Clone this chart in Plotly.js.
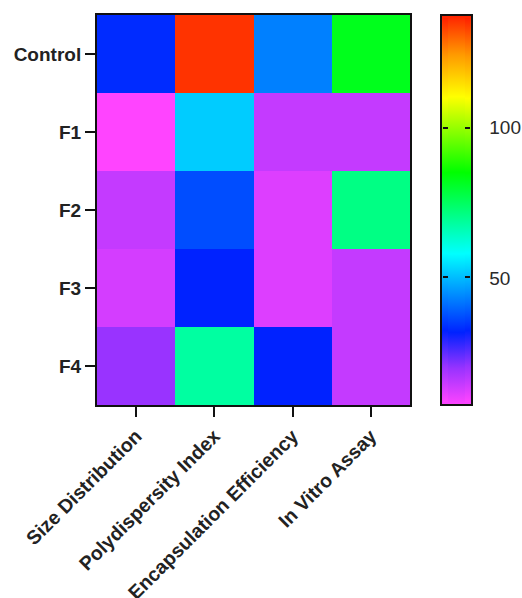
<!DOCTYPE html>
<html>
<head>
<meta charset="utf-8">
<script src="https://cdn.plot.ly/plotly-3.0.1.min.js"></script>
<style>html,body{margin:0;padding:0;background:#fff;}#chart{width:522px;height:598px;}</style>
</head>
<body>
<div id="chart"></div>
<script>
// Data
var columns = ["Size Distribution", "Polydispersity Index", "Encapsulation Efficiency", "In Vitro Assay"];
var rows = ["Control", "F1", "F2", "F3", "F4"];
var controlVals = [33, 135, 43, 82];
var f1Vals = [8, 52, 15, 15];
var f2Vals = [15, 37, 12, 71];
var f3Vals = [13, 32, 12, 15];
var f4Vals = [20, 68, 32, 15];
var colorbarTicks = [50, 100];
var colorMin = 8, colorMax = 137;

// Colour stops (value, colour)
var stopValues = [8, 20, 32, 58, 85, 110, 124, 137];
var stopColors = ["#ff44ff", "#9933ff", "#0022ff", "#00ffff", "#00ff00", "#ffff00", "#ff9900", "#ff2000"];
var colorscale = stopValues.map(function (v, i) {
  return [(v - colorMin) / (colorMax - colorMin), stopColors[i]];
});

var z = [controlVals, f1Vals, f2Vals, f3Vals, f4Vals];

var font = "Liberation Sans, Arial, Helvetica, sans-serif";

var W = 522, H = 598;
var margin = { l: 97, r: 112, t: 15, b: 193 };
var plotW = W - margin.l - margin.r;
var plotH = H - margin.t - margin.b;
var cbX = 1.1, cbThick = 31, cbTickLen = 5;

function baseColorbar() {
  return {
    xanchor: "left",
    xpad: 0,
    ypad: 0,
    y: 0.5,
    yanchor: "middle",
    len: 1,
    lenmode: "fraction",
    outlinewidth: 2,
    tickvals: colorbarTicks,
    tickwidth: 2,
    tickfont: { family: font, size: 19, color: "#2a2a2a" }
  };
}

// main colour bar with labels
var cbMain = baseColorbar();
cbMain.x = cbX;
cbMain.thickness = cbThick;
cbMain.outlinecolor = "#111";
cbMain.ticks = "outside";
cbMain.ticklen = 13;
cbMain.tickcolor = "rgba(0,0,0,0)";

// narrow strips carrying the inside tick marks on each edge,
// kept slightly shorter so they never cover the outline
function stripColorbar(offsetPx) {
  var cb = baseColorbar();
  cb.x = cbX + offsetPx / plotW;
  cb.len = 1 - 6 / plotH;
  cb.thickness = cbTickLen;
  cb.outlinewidth = 0;
  cb.ticks = "inside";
  cb.ticklen = cbTickLen;
  cb.tickcolor = "#111";
  cb.tickfont = { family: font, size: 1, color: "rgba(0,0,0,0)" };
  return cb;
}

function heat(uid, cb) {
  return {
    type: "heatmap",
    uid: uid,
    x: columns,
    y: rows,
    z: z,
    zmin: colorMin,
    zmax: colorMax,
    colorscale: colorscale,
    showscale: true,
    colorbar: cb
  };
}

var data = [
  heat("main", cbMain),
  heat("tickleft", stripColorbar(2)),
  heat("tickright", stripColorbar(cbThick - 2 - cbTickLen))
];

var layout = {
  width: W,
  height: H,
  margin: { l: margin.l, r: margin.r, t: margin.t, b: margin.b, autoexpand: false },
  paper_bgcolor: "#fff",
  plot_bgcolor: "#fff",
  showlegend: false,
  xaxis: {
    type: "category",
    showline: true,
    linecolor: "#111",
    linewidth: 2,
    mirror: true,
    ticks: "outside",
    ticklen: 10,
    tickwidth: 2,
    tickcolor: "#111",
    tickangle: -45,
    showgrid: false,
    zeroline: false,
    tickfont: { family: font, size: 19.5, color: "#222", weight: "bold" }
  },
  yaxis: {
    type: "category",
    autorange: "reversed",
    showline: true,
    linecolor: "#111",
    linewidth: 2,
    mirror: true,
    ticks: "outside",
    ticklen: 10,
    tickwidth: 2,
    tickcolor: "#111",
    showgrid: false,
    zeroline: false,
    tickfont: { family: font, size: 19, color: "#222", weight: "bold" }
  }
};

Plotly.newPlot("chart", data, layout, { displayModeBar: false, staticPlot: true });
</script>
</body>
</html>
